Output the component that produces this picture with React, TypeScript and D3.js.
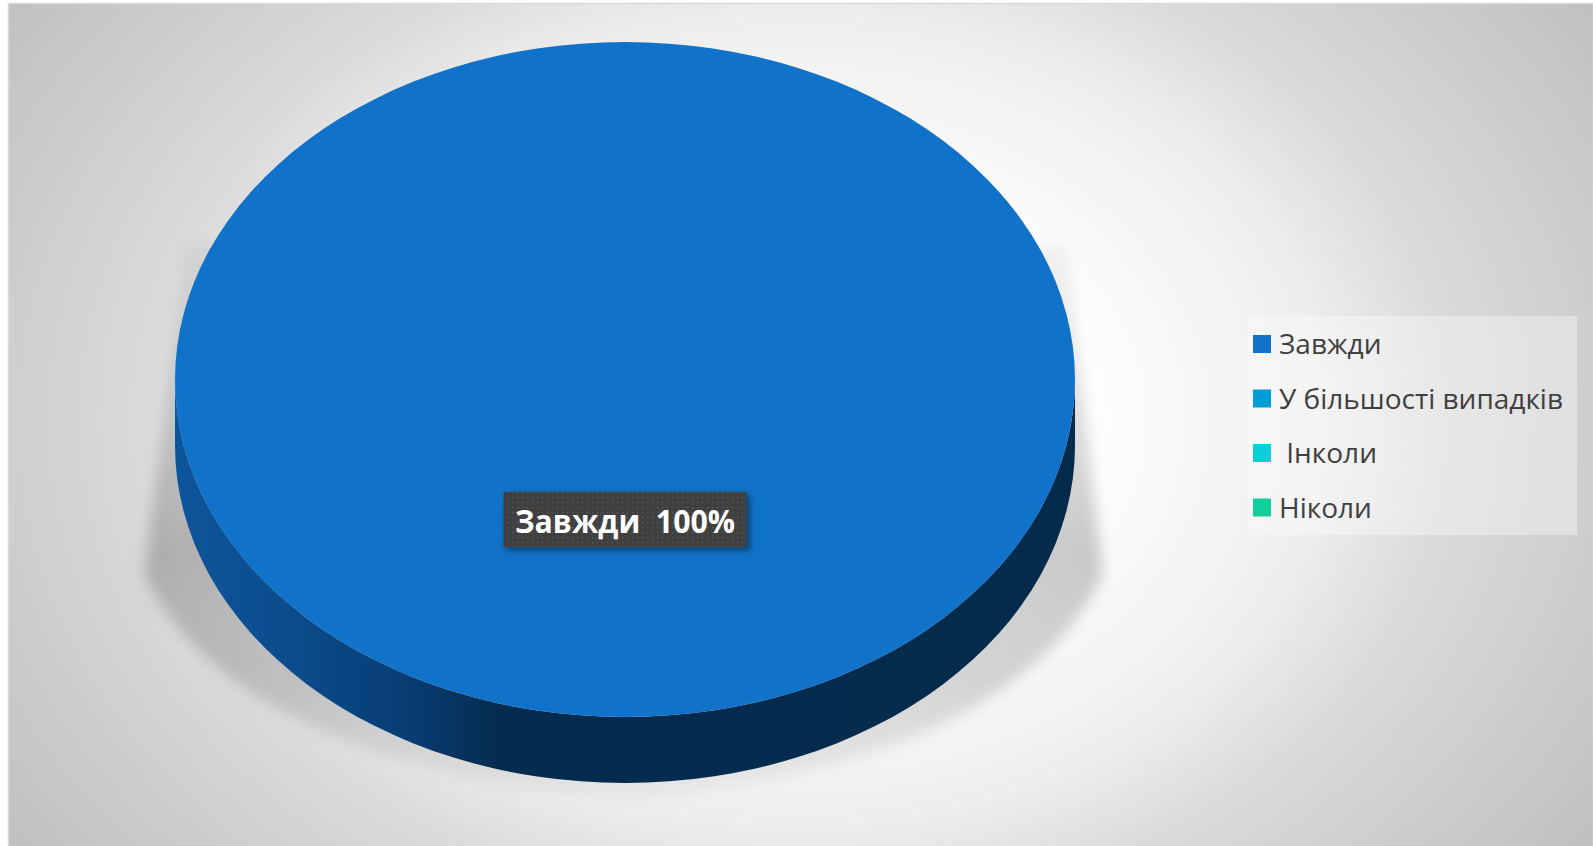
import React from "react";
import * as d3 from "d3";

const categories = ["Завжди", "У більшості випадків", " Інколи", "Ніколи"];
const values = [100, 0, 0, 0];
const colors = ["#1172c9", "#009dd9", "#0bd0d9", "#10cf9b"];
const labelText = "Завжди  100%";

const W = 1593;
const H = 846;

export default function App() {
  const cx = 625;
  const cy = 379.5;
  const rx = 450;
  const ry = 337.5;
  const depth = 66;
  const dd = depth / ry;

  const pie = d3.pie<number>().sort(null).value((d) => d);
  const slices = pie(values);
  const topArc = d3.arc<d3.PieArcDatum<number>>().innerRadius(0).outerRadius(1);
  const labelArc = d3.arc<d3.PieArcDatum<number>>().innerRadius(0).outerRadius(0.83);

  const sidePath = (s: d3.PieArcDatum<number>) => {
    const a0 = Math.max(s.startAngle - Math.PI / 2, 0);
    const a1 = Math.min(s.endAngle - Math.PI / 2, Math.PI);
    if (a1 <= a0) return null;
    const p = d3.path();
    p.moveTo(Math.cos(a0), Math.sin(a0));
    p.arc(0, 0, 1, a0, a1, false);
    p.lineTo(Math.cos(a1), Math.sin(a1) + dd);
    p.arc(0, dd, 1, a1, a0, true);
    p.closePath();
    return p.toString();
  };

  const main = slices.find((s) => s.value > 0)!;
  const [lx, ly] = labelArc.centroid(main);
  const labX = cx + lx * rx;
  const labY = cy + ly * ry;
  const boxW = 243;
  const boxH = 55;

  const legendX = 1253;
  const legendY0 = 335;
  const legendStep = 54.5;

  return (
    <svg
      width={W}
      height={H}
      style={{ position: "absolute", left: 0, top: 0 }}
      fontFamily="'Open Sans', sans-serif"
    >
      <defs>
        <radialGradient
          id="bg"
          gradientUnits="userSpaceOnUse"
          cx={800}
          cy={420}
          r={950}
          gradientTransform="translate(800,420) scale(1,0.77) translate(-800,-420)"
        >
          <stop offset="0" stopColor="#ffffff" />
          <stop offset="0.32" stopColor="#fdfdfd" />
          <stop offset="0.55" stopColor="#eeeeee" />
          <stop offset="0.69" stopColor="#dadada" />
          <stop offset="0.95" stopColor="#c5c5c5" />
          <stop offset="1" stopColor="#c1c1c1" />
        </radialGradient>
        <linearGradient id="shadowGrad" x1="0" y1="0" x2="0" y2="1">
          <stop offset="0" stopColor="#000" stopOpacity="0.04" />
          <stop offset="0.55" stopColor="#000" stopOpacity="0.2" />
          <stop offset="0.8" stopColor="#000" stopOpacity="0.14" />
          <stop offset="1" stopColor="#000" stopOpacity="0.03" />
        </linearGradient>
        <filter id="blur" x="-10%" y="-10%" width="120%" height="120%">
          <feGaussianBlur stdDeviation="7" />
        </filter>
        <linearGradient id="side" x1="0" y1="0" x2="1" y2="0">
          <stop offset="0" stopColor="#0d559b" />
          <stop offset="0.12" stopColor="#0b4d8d" />
          <stop offset="0.26" stopColor="#073d72" />
          <stop offset="0.36" stopColor="#052c4f" />
          <stop offset="1" stopColor="#052b4c" />
        </linearGradient>
        <pattern id="dots" width="5" height="5" patternUnits="userSpaceOnUse">
          <rect width="5" height="5" fill="#404040" />
          <rect x="2" y="2" width="1.2" height="1.2" fill="#5c5c5c" />
        </pattern>
        <filter id="labShadow" x="-10%" y="-20%" width="130%" height="160%">
          <feDropShadow dx="3" dy="3" stdDeviation="3" floodColor="#000" floodOpacity="0.5" />
        </filter>
      </defs>

      {/* chart area */}
      <rect x={8.5} y={3.5} width={W - 8} height={H} fill="url(#bg)" stroke="#d9d9d9" strokeWidth={1.5} />

      {/* pie shadow */}
      <path
        d="M 186,245 L 1066,245 L 1103,575 Q 1010,765 625,800 Q 240,765 144,575 Z"
        fill="url(#shadowGrad)"
        filter="url(#blur)"
      />

      {/* 3D pie */}
      <g transform={`translate(${cx},${cy}) scale(${rx},${ry})`}>
        {slices.map((s, i) => {
          const d = sidePath(s);
          return d && s.value > 0 ? (
            <path key={"s" + i} d={d} fill={i === 0 ? "url(#side)" : d3.color(colors[i])!.darker(1.5).toString()} />
          ) : null;
        })}
        {slices.map((s, i) =>
          s.value > 0 ? <path key={"t" + i} d={topArc(s) || ""} fill={colors[i]} /> : null
        )}
      </g>

      {/* data label */}
      <g filter="url(#labShadow)">
        <rect x={labX - boxW / 2} y={labY - boxH / 2} width={boxW} height={boxH} fill="url(#dots)" />
      </g>
      <text
        x={labX}
        y={labY + 13.5}
        textAnchor="middle"
        fill="#ffffff"
        fontWeight="bold"
        fontSize={32}
        textLength={220}
        lengthAdjust="spacingAndGlyphs"
        style={{ whiteSpace: "pre" }}
      >
        {labelText}
      </text>

      {/* legend */}
      <rect x={1247} y={316} width={330} height={219} fill="#ffffff" fillOpacity={0.35} />
      {categories.map((c, i) => (
        <g key={c} transform={`translate(${legendX},${legendY0 + i * legendStep})`}>
          <rect width={18} height={18} fill={colors[i]} />
          <text x={26} y={19} fontSize={28} fill="#404040" style={{ whiteSpace: "pre" }}>
            {c}
          </text>
        </g>
      ))}
    </svg>
  );
}
